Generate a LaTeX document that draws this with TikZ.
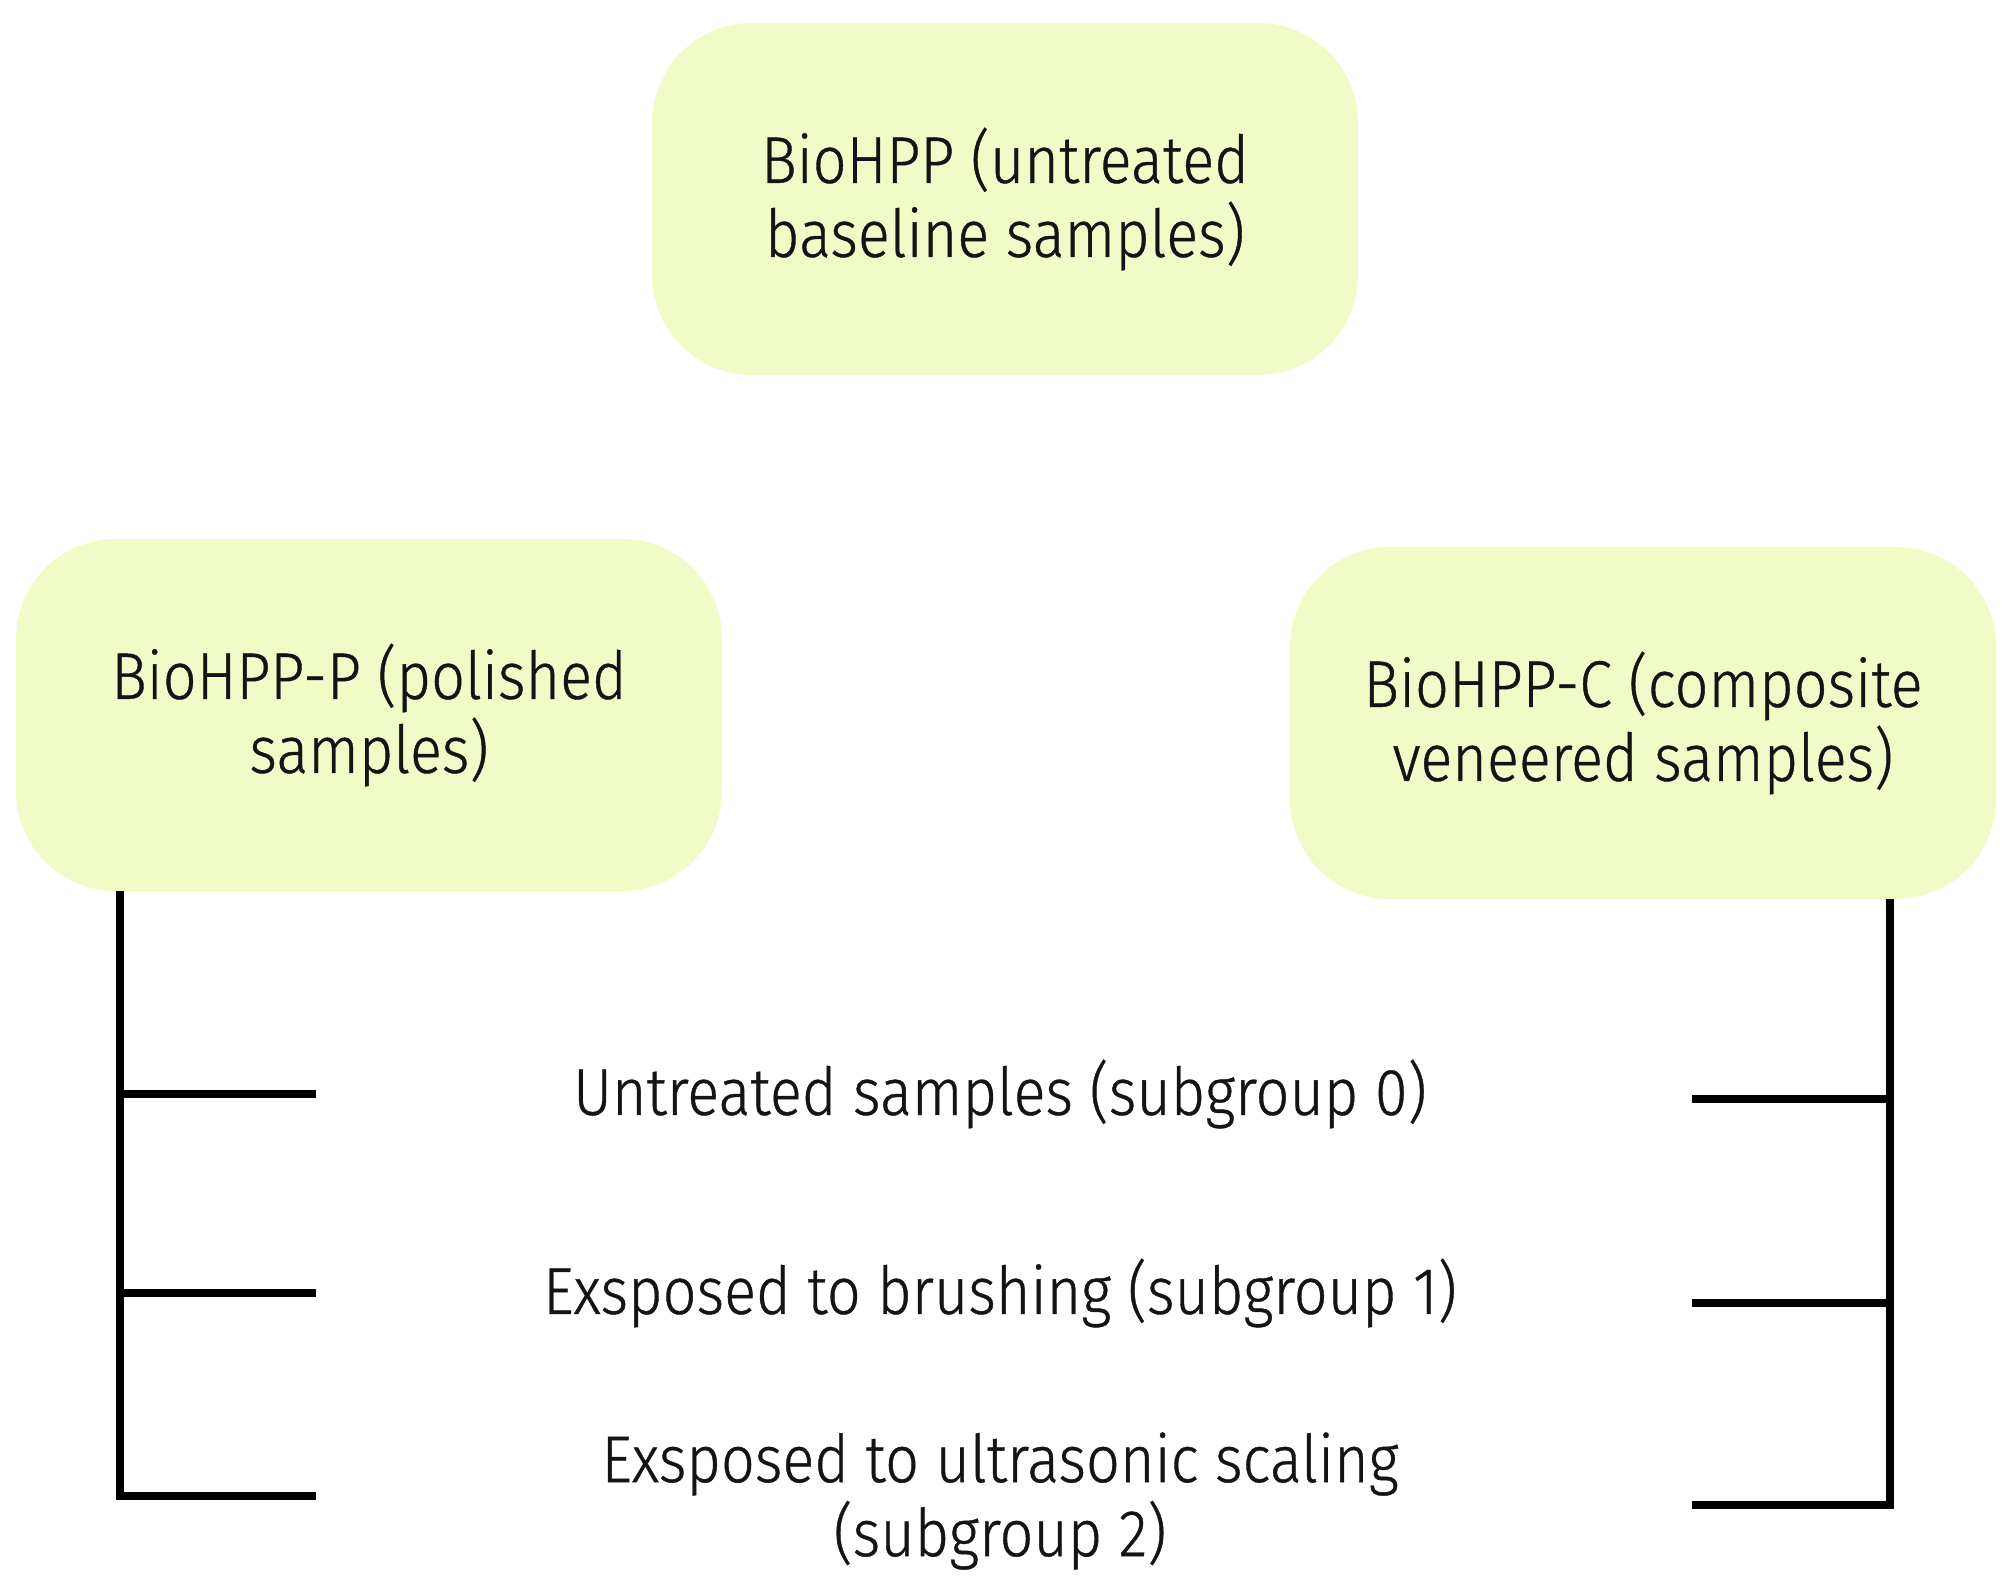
\documentclass[tikz,border=0pt]{standalone}
\usepackage{fontspec}
\setmainfont{Fira Sans Light}[FakeStretch=0.9, FakeBold=0.6]
\definecolor{boxfill}{RGB}{240,251,200}
\definecolor{inkc}{RGB}{20,20,20}
\begin{document}
\begin{tikzpicture}[x=1pt,y=-1pt,
  box/.style={fill=boxfill, rounded corners=100pt, minimum width=706pt, minimum height=352pt,
    align=center, font=\fontsize{66}{74}\selectfont, text=inkc, inner sep=0pt},
  lbl/.style={align=center, font=\fontsize{66}{74}\selectfont, text=inkc, inner sep=0pt},
  conn/.style={line width=8pt, draw=black}]
\useasboundingbox[fill=white] (0,0) rectangle (2013,1588);
\node[box] (top) at (1005,199) {BioHPP (untreated\\baseline samples)};
\node[box] (pol) at (369,715) {BioHPP-P (polished\\samples)};
\node[box] (comp) at (1643,723) {BioHPP-C (composite\\veneered samples)};
\node[lbl] (s0) at (1000,1094) {Untreated samples (subgroup 0)};
\node[lbl] (s1) at (1000,1293) {Exsposed to brushing (subgroup 1)};
\node[lbl] (s2) at (1000,1501) {Exsposed to ultrasonic scaling\\(subgroup 2)};
% left bracket
\coordinate (lv) at ([xshift=104pt]pol.south west);
\coordinate (lt0) at (316,1094);
\coordinate (lt1) at (316,1293);
\coordinate (lt2) at (316,1496);
\draw[conn] (lv) |- (lt2);
\draw[conn] (lv |- lt0) -- (lt0);
\draw[conn] (lv |- lt1) -- (lt1);
% right bracket
\coordinate (rv) at ([xshift=-106pt]comp.south east);
\coordinate (rt0) at (1692,1099);
\coordinate (rt1) at (1692,1303);
\coordinate (rt2) at (1692,1505);
\draw[conn] (rv) |- (rt2);
\draw[conn] (rv |- rt0) -- (rt0);
\draw[conn] (rv |- rt1) -- (rt1);
\end{tikzpicture}
\end{document}
